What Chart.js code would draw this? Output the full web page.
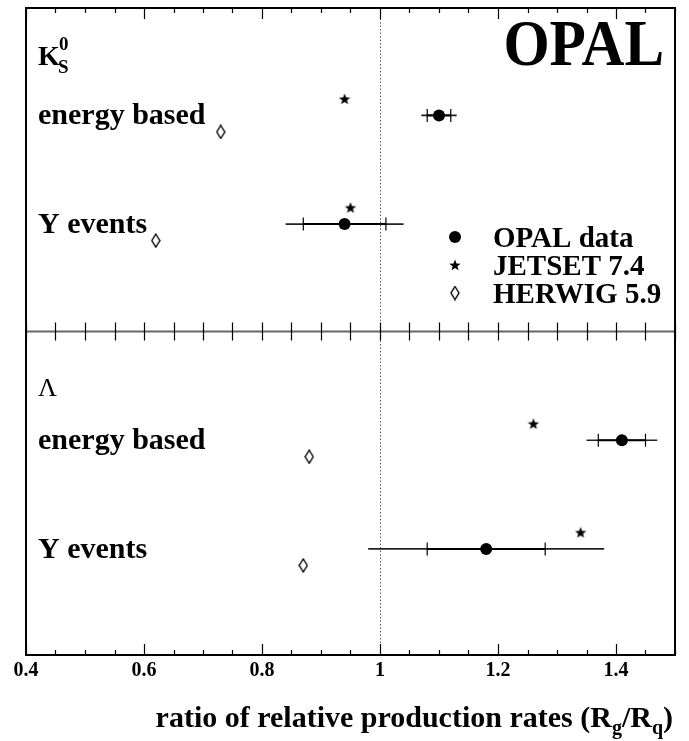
<!DOCTYPE html>
<html>
<head>
<meta charset="utf-8">
<script src="https://cdn.jsdelivr.net/npm/chart.js@4"></script>
<style>
html,body{margin:0;padding:0;background:#fff;}
canvas{display:block;}
</style>
</head>
<body>
<canvas id="c" width="689" height="741"></canvas>
<script>
// ---- data ----
const rowNames = ['K0S energy based', 'K0S Y events', 'Lambda energy based', 'Lambda Y events'];
const opalValue = [1.10, 0.94, 1.41, 1.18];
const opalStatErr = [0.02, 0.07, 0.04, 0.10];
const opalTotalErr = [0.03, 0.10, 0.06, 0.20];
const jetsetValue = [0.94, 0.95, 1.26, 1.34];
const herwigValue = [0.73, 0.62, 0.88, 0.87];
const tickLabelValues = [0.4, 0.6, 0.8, 1.0, 1.2, 1.4];
const rowLabels = ['energy based', 'Y events', 'energy based', 'Y events'];
const legendLabels = ['OPAL data', 'JETSET 7.4', 'HERWIG 5.9'];

// ---- layout (vertical row positions on hidden y scale 0..10) ----
const rowCenter = [8.34, 6.66, 3.32, 1.64];
const modelOffset = 0.255;

const SERIF = '"Liberation Serif", "Times New Roman", serif';

function makeStar(size) {
  const c = document.createElement('canvas');
  c.width = size; c.height = size;
  const g = c.getContext('2d');
  const cx = size / 2, cy = size / 2 + 0.5, R = size / 2, r = R * 0.42;
  g.beginPath();
  for (let i = 0; i < 10; i++) {
    const a = -Math.PI / 2 + i * Math.PI / 5;
    const rr = i % 2 ? r : R;
    const x = cx + rr * Math.cos(a), y = cy + rr * Math.sin(a);
    i ? g.lineTo(x, y) : g.moveTo(x, y);
  }
  g.closePath();
  g.fillStyle = '#000';
  g.fill();
  return c;
}
function makeDiamond(w, h) {
  const c = document.createElement('canvas');
  c.width = w; c.height = h;
  const g = c.getContext('2d');
  g.beginPath();
  g.moveTo(w / 2, 1); g.lineTo(w - 1, h / 2); g.lineTo(w / 2, h - 1); g.lineTo(1, h / 2);
  g.closePath();
  g.fillStyle = '#fff'; g.fill();
  g.strokeStyle = '#000'; g.lineWidth = 1.4; g.stroke();
  return c;
}
const starImg = makeStar(12);
const diamondImg = makeDiamond(10, 15);

const opalPts = opalValue.map((v, i) => ({x: v, y: rowCenter[i]}));
const jetsetPts = jetsetValue.map((v, i) => ({x: v, y: rowCenter[i] + modelOffset}));
const herwigPts = herwigValue.map((v, i) => ({x: v, y: rowCenter[i] - modelOffset}));

const isMajor = v => Math.abs(v / 0.2 - Math.round(v / 0.2)) < 1e-6;

const decor = {
  id: 'decor',
  beforeDatasetsDraw(chart) {
    const {ctx, chartArea: a, scales: {x, y}} = chart;
    ctx.save();
    // dotted line at 1
    const x1 = x.getPixelForValue(1);
    ctx.strokeStyle = '#555'; ctx.lineWidth = 1; ctx.setLineDash([1.5, 2]);
    ctx.beginPath(); ctx.moveTo(x1 + 0.5, a.top); ctx.lineTo(x1 + 0.5, a.bottom); ctx.stroke();
    ctx.setLineDash([]);
    // error bars
    opalValue.forEach((v, i) => {
      const py = y.getPixelForValue(rowCenter[i]);
      const lo = x.getPixelForValue(v - opalTotalErr[i]);
      const hi = x.getPixelForValue(v + opalTotalErr[i]);
      const slo = x.getPixelForValue(v - opalStatErr[i]);
      const shi = x.getPixelForValue(v + opalStatErr[i]);
      ctx.strokeStyle = '#222'; ctx.lineWidth = 1.6;
      ctx.beginPath(); ctx.moveTo(lo, py); ctx.lineTo(hi, py); ctx.stroke();
      ctx.strokeStyle = '#000'; ctx.lineWidth = 2;
      ctx.beginPath(); ctx.moveTo(slo, py); ctx.lineTo(shi, py); ctx.stroke();
      ctx.lineWidth = 1.2;
      ctx.beginPath();
      ctx.moveTo(slo, py - 6.5); ctx.lineTo(slo, py + 6.5);
      ctx.moveTo(shi, py - 6.5); ctx.lineTo(shi, py + 6.5);
      ctx.stroke();
    });
    ctx.restore();
  },
  afterDatasetsDraw(chart) {
    const {ctx, chartArea: a, scales: {x, y}} = chart;
    ctx.save();
    // middle divider
    const ym = y.getPixelForValue(5);
    ctx.strokeStyle = '#666'; ctx.lineWidth = 2;
    ctx.beginPath(); ctx.moveTo(a.left, ym); ctx.lineTo(a.right, ym); ctx.stroke();
    // ticks
    ctx.strokeStyle = '#000'; ctx.lineWidth = 1.2;
    ctx.beginPath();
    x.ticks.forEach(t => {
      const px = Math.round(x.getPixelForValue(t.value)) + 0.5;
      const len = isMajor(t.value) ? 11 : 5;
      ctx.moveTo(px, a.top); ctx.lineTo(px, a.top + len);
      ctx.moveTo(px, a.bottom); ctx.lineTo(px, a.bottom - len);
      ctx.moveTo(px, ym - 9); ctx.lineTo(px, ym + 9);
    });
    ctx.stroke();
    // frame
    ctx.strokeStyle = '#000'; ctx.lineWidth = 2;
    ctx.strokeRect(a.left, a.top, a.right - a.left, a.bottom - a.top);

    ctx.fillStyle = '#000';
    ctx.textAlign = 'left'; ctx.textBaseline = 'alphabetic';
    // row labels
    ctx.font = 'bold 30px ' + SERIF;
    rowLabels.forEach((s, i) => {
      ctx.fillText(s, a.left + 12, y.getPixelForValue(rowCenter[i]) + 9);
    });
    // K0S
    ctx.font = 'bold 28px ' + SERIF;
    ctx.fillText('K', a.left + 12, 65);
    ctx.font = 'bold 19px ' + SERIF;
    ctx.fillText('0', a.left + 33, 50);
    ctx.fillText('S', a.left + 32, 73);
    // Lambda
    ctx.font = '26px ' + SERIF;
    ctx.fillText('\u039B', a.left + 12, 396);
    // OPAL
    ctx.save();
    ctx.translate(664, 65);
    ctx.scale(0.9, 1);
    ctx.textAlign = 'right';
    ctx.font = 'bold 66px ' + SERIF;
    ctx.fillText('OPAL', 0, 0);
    ctx.restore();
    // legend
    const lx = 455, ly = [237, 265, 293];
    ctx.beginPath(); ctx.arc(lx, ly[0], 6, 0, Math.PI * 2); ctx.fill();
    ctx.drawImage(starImg, lx - starImg.width / 2, ly[1] - starImg.height / 2);
    ctx.drawImage(diamondImg, lx - diamondImg.width / 2, ly[2] - diamondImg.height / 2);
    ctx.font = 'bold 29px ' + SERIF;
    legendLabels.forEach((s, i) => ctx.fillText(s, 493, ly[i] + 10));
    // axis title
    const parts = [
      ['ratio of relative production rates (R', 30, 0],
      ['g', 20, 7],
      ['/R', 30, 0],
      ['q', 20, 7],
      [')', 30, 0]
    ];
    let total = 0;
    parts.forEach(p => { ctx.font = 'bold ' + p[1] + 'px ' + SERIF; total += ctx.measureText(p[0]).width; });
    let cx = 673 - total;
    parts.forEach(p => {
      ctx.font = 'bold ' + p[1] + 'px ' + SERIF;
      ctx.fillText(p[0], cx, 727 + p[2]);
      cx += ctx.measureText(p[0]).width;
    });
    ctx.restore();
  }
};

new Chart(document.getElementById('c'), {
  type: 'scatter',
  data: {
    datasets: [
      {label: 'OPAL data', data: opalPts, pointStyle: 'circle', pointRadius: 6,
       backgroundColor: '#000', borderColor: '#000', borderWidth: 0},
      {label: 'JETSET 7.4', data: jetsetPts, pointStyle: starImg, pointRadius: 6},
      {label: 'HERWIG 5.9', data: herwigPts, pointStyle: diamondImg, pointRadius: 7}
    ]
  },
  options: {
    responsive: false,
    animation: false,
    events: [],
    layout: {padding: {left: 26, right: 14, top: 7, bottom: 54}},
    plugins: {legend: {display: false}, tooltip: {enabled: false}},
    scales: {
      x: {
        type: 'linear', min: 0.4, max: 1.5,
        border: {display: false},
        grid: {display: false, drawTicks: false},
        ticks: {
          stepSize: 0.05, autoSkip: false, maxRotation: 0, padding: 4,
          color: '#000',
          font: {family: SERIF, size: 20, weight: 'bold'},
          callback: v => (isMajor(v) && tickLabelValues.some(t => Math.abs(t - v) < 1e-6)) ? String(Math.round(v * 10) / 10) : ''
        }
      },
      y: {type: 'linear', min: 0, max: 10, display: false}
    }
  },
  plugins: [decor]
});
</script>
</body>
</html>
